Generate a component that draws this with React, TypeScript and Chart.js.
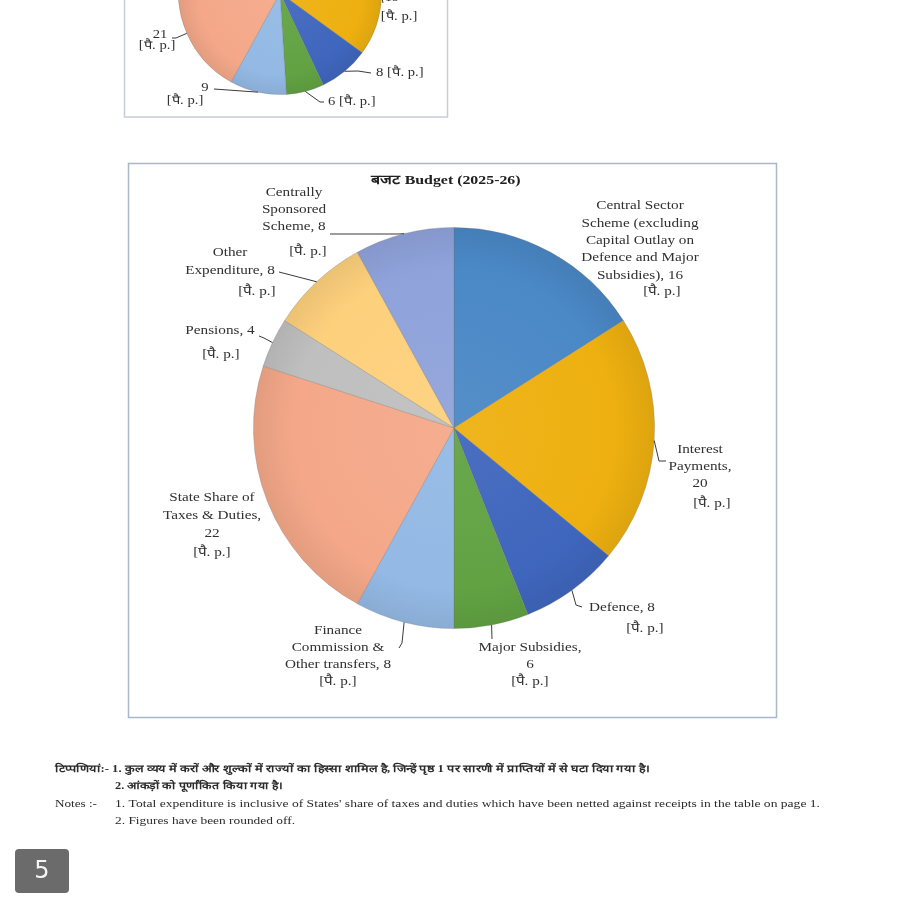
import React, { useEffect, useRef } from "react";
import { Chart, registerables } from "chart.js";
Chart.register(...registerables);

// ---------- data ----------
const categories = [
  "Central Sector Scheme (excluding Capital Outlay on Defence and Major Subsidies)",
  "Interest Payments",
  "Defence",
  "Major Subsidies",
  "Finance Commission & Other transfers",
  "State Share of Taxes & Duties",
  "Pensions",
  "Other Expenditure",
  "Centrally Sponsored Scheme",
];
const budget2526 = [16, 20, 8, 6, 8, 22, 4, 8, 8];
const budget2425 = [16, 19, 8, 6, 9, 21, 4, 9, 8];
const sliceColors = ["#4a88c6", "#eeb010", "#3f66bd", "#62a243", "#93b9e4", "#f4a889", "#bfbfbf", "#fdd07c", "#8fa2da"];
const unitLabel = "[पै. p.]";
const mainTitle = "बजट Budget (2025-26)";
const mainLabelTemplates = [
  ["Central Sector", "Scheme (excluding", "Capital Outlay on", "Defence and Major", "Subsidies), {v}"],
  ["Interest", "Payments,", "{v}"],
  ["Defence, {v}"],
  ["Major Subsidies,", "{v}"],
  ["Finance", "Commission &", "Other transfers, {v}"],
  ["State Share of", "Taxes & Duties,", "{v}"],
  ["Pensions, {v}"],
  ["Other", "Expenditure, {v}"],
  ["Centrally", "Sponsored", "Scheme, {v}"],
];
const notesHindi = [
  "टिप्पणियां:- 1. कुल व्यय में करों और शुल्कों में राज्यों का हिस्सा शामिल है, जिन्हें पृष्ठ 1 पर सारणी में प्राप्तियों में से घटा दिया गया है।",
  "2. आंकड़ों को पूर्णांकित किया गया है।",
];
const notesLabel = "Notes :-";
const notesEnglish = [
  "1. Total expenditure is inclusive of States' share of taxes and duties which have been netted against receipts in the table on page 1.",
  "2. Figures have been rounded off.",
];
const pageNumber = "5";

// ---------- layout (positions only) ----------
const mainLayout = [
  { x: 640, y: 206, dy: 17.3, ux: 662, uy: 292, leader: null as number[][] | null },
  { x: 700, y: 450, dy: 17, ux: 712, uy: 504, leader: [[666, 461], [659, 461]] },
  { x: 622, y: 608, dy: 17, ux: 645, uy: 629, leader: [[582, 607], [576, 605]] },
  { x: 530, y: 648, dy: 17, ux: 530, uy: 682, leader: [[492, 639]] },
  { x: 338, y: 631, dy: 17, ux: 338, uy: 682, leader: [[399, 648], [402, 643]] },
  { x: 212, y: 498, dy: 18, ux: 212, uy: 553, leader: null },
  { x: 220, y: 331, dy: 17, ux: 221, uy: 355, leader: [[259, 336], [264, 338]] },
  { x: 230, y: 253, dy: 18, ux: 257, uy: 292, leader: [[279, 272]] },
  { x: 294, y: 193, dy: 17, ux: 308, uy: 252, leader: [[330, 234], [398, 234]] },
];

const topLayout: ({ t: string; x: number; y: number; ux: number; uy: number; leader: number[][]; inline?: boolean } | null)[] = [
  null,
  { t: "{v}", x: 392, y: -2, ux: 399, uy: 17, leader: [[383, 3]] },
  { t: "{v}", x: 376, y: 73, ux: 0, uy: 0, leader: [[371, 73], [358, 71]], inline: true },
  { t: "{v}", x: 328, y: 102, ux: 0, uy: 0, leader: [[324, 102], [320, 102]], inline: true },
  { t: "{v}", x: 205, y: 88, ux: 185, uy: 101, leader: [[214, 89]] },
  { t: "{v}", x: 160, y: 35, ux: 157, uy: 46, leader: [[172, 38], [176, 38]] },
  null,
  null,
  null,
];

const FONT = "'Liberation Serif', 'Times New Roman', serif";
const TEXT = "#303030";
const STRETCH = 1.17;

function shade(hex: string, f: number) {
  const n = parseInt(hex.slice(1), 16);
  let r = (n >> 16) & 255, g = (n >> 8) & 255, b = n & 255;
  if (f >= 0) { r += (255 - r) * f; g += (255 - g) * f; b += (255 - b) * f; }
  else { r *= 1 + f; g *= 1 + f; b *= 1 + f; }
  return `rgb(${Math.round(r)},${Math.round(g)},${Math.round(b)})`;
}

function gradientColor(c: any) {
  const chart = c.chart;
  const base = sliceColors[c.dataIndex % sliceColors.length];
  const a = chart.chartArea;
  if (!a) return base;
  const cx = (a.left + a.right) / 2, cy = (a.top + a.bottom) / 2;
  const r = Math.min(a.right - a.left, a.bottom - a.top) / 2;
  const g = chart.ctx.createRadialGradient(cx, cy, 0, cx, cy, r);
  g.addColorStop(0, shade(base, 0.06));
  g.addColorStop(0.8, base);
  g.addColorStop(1, shade(base, -0.07));
  return g;
}

function edgePoint(chart: any, i: number) {
  const arc = chart.getDatasetMeta(0).data[i] as any;
  const mid = (arc.startAngle + arc.endAngle) / 2;
  return [arc.x + Math.cos(mid) * arc.outerRadius, arc.y + Math.sin(mid) * arc.outerRadius];
}

function drawLeader(ctx: CanvasRenderingContext2D, pts: number[][], edge: number[], dy: number) {
  ctx.save();
  ctx.strokeStyle = "#3a3a3a";
  ctx.lineWidth = 1;
  ctx.beginPath();
  pts.forEach((p, k) => (k === 0 ? ctx.moveTo(p[0], p[1] + dy) : ctx.lineTo(p[0], p[1] + dy)));
  ctx.lineTo(edge[0], edge[1]);
  ctx.stroke();
  ctx.restore();
}

function sText(ctx: CanvasRenderingContext2D, text: string, x: number, y: number, s = STRETCH) {
  ctx.save();
  ctx.translate(x, y);
  ctx.scale(s, 1);
  ctx.fillText(text, 0, 0);
  ctx.restore();
}

function fitText(ctx: CanvasRenderingContext2D, text: string, x: number, y: number, w: number) {
  const m = ctx.measureText(text).width;
  sText(ctx, text, x, y, w / m);
}

const mainPlugin = {
  id: "mainDecor",
  beforeDraw(chart: any) {
    const ctx = chart.ctx as CanvasRenderingContext2D;
    ctx.save();
    ctx.fillStyle = "#ffffff";
    ctx.fillRect(0, 0, chart.width, chart.height);
    ctx.strokeStyle = "#a9b8c9";
    ctx.lineWidth = 1.5;
    ctx.strokeRect(128.5, 163.5, 648, 554);
    ctx.restore();
  },
  afterDraw(chart: any) {
    const ctx = chart.ctx as CanvasRenderingContext2D;
    const data = chart.data.datasets[0].data as number[];
    ctx.save();
    ctx.fillStyle = "#202020";
    ctx.textBaseline = "middle";
    ctx.textAlign = "center";
    ctx.font = `bold 13px ${FONT}`;
    sText(ctx, mainTitle, 446, 181, 1.22);

    ctx.fillStyle = TEXT;
    ctx.font = `13px ${FONT}`;
    mainLabelTemplates.forEach((tpl, i) => {
      const L = mainLayout[i];
      tpl.forEach((line, k) => {
        sText(ctx, line.replace("{v}", String(data[i])), L.x, L.y + k * L.dy);
      });
      sText(ctx, unitLabel, L.ux, L.uy);
      if (L.leader) drawLeader(ctx, L.leader, edgePoint(chart, i), 0);
    });

    // footnotes
    ctx.textAlign = "left";
    ctx.fillStyle = "#2a2a2a";
    ctx.font = `bold 10px ${FONT}`;
    fitText(ctx, notesHindi[0], 55, 769, 595);
    fitText(ctx, notesHindi[1], 115, 786, 168);
    ctx.font = `10px ${FONT}`;
    fitText(ctx, notesLabel, 55, 804, 42);
    fitText(ctx, notesEnglish[0], 115, 804, 705);
    fitText(ctx, notesEnglish[1], 115, 821, 180);

    // page badge
    ctx.fillStyle = "#6b6b6b";
    ctx.beginPath();
    (ctx as any).roundRect(15, 849, 54, 44, 4);
    ctx.fill();
    ctx.fillStyle = "#f4f4f4";
    ctx.textAlign = "center";
    ctx.font = "24px 'DejaVu Sans', sans-serif";
    ctx.fillText(pageNumber, 42, 872);
    ctx.restore();
  },
};

const TOP_OFF = 120;
const topPlugin = {
  id: "topDecor",
  beforeDraw(chart: any) {
    const ctx = chart.ctx as CanvasRenderingContext2D;
    ctx.save();
    ctx.strokeStyle = "#c4ceda";
    ctx.lineWidth = 1.5;
    ctx.beginPath();
    ctx.moveTo(124.5, 0);
    ctx.lineTo(124.5, 117 + TOP_OFF);
    ctx.lineTo(447.5, 117 + TOP_OFF);
    ctx.lineTo(447.5, 0);
    ctx.stroke();
    ctx.restore();
  },
  afterDraw(chart: any) {
    const ctx = chart.ctx as CanvasRenderingContext2D;
    const data = chart.data.datasets[0].data as number[];
    ctx.save();
    ctx.fillStyle = TEXT;
    ctx.textBaseline = "middle";
    ctx.font = `12px ${FONT}`;
    topLayout.forEach((L, i) => {
      if (!L) return;
      const txt = L.t.replace("{v}", String(data[i]));
      if (L.inline) {
        ctx.textAlign = "left";
        sText(ctx, txt + " " + unitLabel, L.x, L.y + TOP_OFF, 1.22);
      } else {
        ctx.textAlign = "center";
        sText(ctx, txt, L.x, L.y + TOP_OFF, 1.22);
        sText(ctx, unitLabel, L.ux, L.uy + TOP_OFF, 1.22);
      }
      drawLeader(ctx, L.leader, edgePoint(chart, i), TOP_OFF);
    });
    ctx.restore();
  },
};

export default function App() {
  const mainRef = useRef<HTMLCanvasElement>(null);
  const topRef = useRef<HTMLCanvasElement>(null);

  useEffect(() => {
    const common = (values: number[]) => ({
      labels: categories,
      datasets: [
        {
          data: values,
          backgroundColor: gradientColor,
          borderColor: "rgba(110,110,110,0.35)",
          borderWidth: 0.8,
        },
      ],
    });
    const top = new Chart(topRef.current!, {
      type: "pie",
      data: common(budget2425),
      options: {
        responsive: false,
        animation: false,
        layout: { padding: { left: 178, right: 518, top: 11, bottom: 25 } },
        plugins: { legend: { display: false }, tooltip: { enabled: false }, title: { display: false } },
      },
      plugins: [topPlugin],
    } as any);
    const main = new Chart(mainRef.current!, {
      type: "pie",
      data: common(budget2526),
      options: {
        responsive: false,
        animation: false,
        layout: { padding: { left: 253, right: 245, top: 227, bottom: 271 } },
        plugins: { legend: { display: false }, tooltip: { enabled: false }, title: { display: false } },
      },
      plugins: [mainPlugin],
    } as any);
    return () => {
      top.destroy();
      main.destroy();
    };
  }, []);

  return (
    <div style={{ position: "fixed", left: 0, top: 0, width: 900, height: 900, overflow: "hidden", background: "#fff" }}>
      <canvas ref={mainRef} width={900} height={900} style={{ position: "absolute", left: 0, top: 0 }} />
      <canvas ref={topRef} width={900} height={240} style={{ position: "absolute", left: 0, top: -TOP_OFF }} />
    </div>
  );
}
